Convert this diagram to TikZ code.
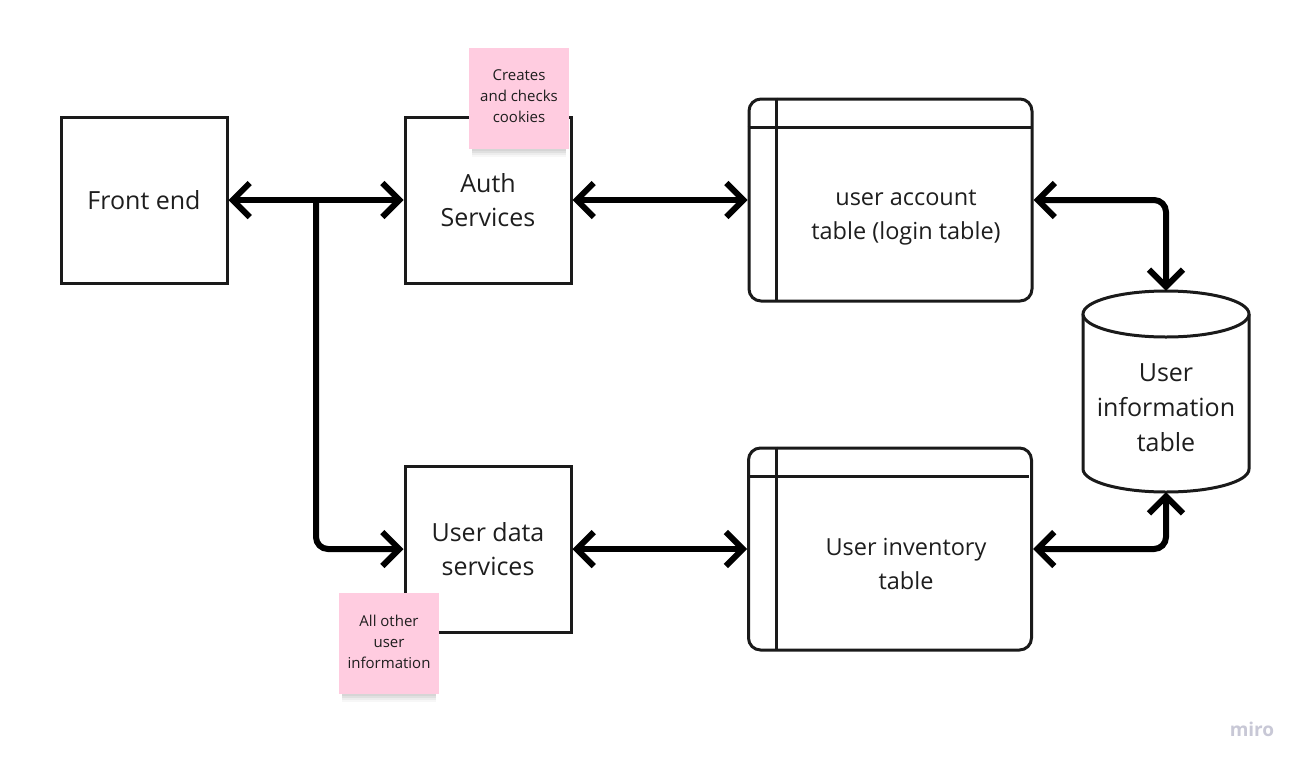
\documentclass[tikz,border=0pt]{standalone}
\usepackage{fontspec}
\setmainfont{Open Sans}
\usetikzlibrary{arrows.meta}
\definecolor{ink}{HTML}{1A1A1A}
\definecolor{txt}{HTML}{1E1E1E}
\definecolor{sticky}{HTML}{FFCCE0}
\definecolor{logo}{HTML}{C8C8D6}
\begin{document}
\begin{tikzpicture}[x=1pt,y=-1pt,
  box/.style={draw=ink,line width=3pt,fill=white,minimum width=166pt,minimum height=166pt,inner sep=0pt,align=center,text=txt,font=\fontsize{25}{34}\selectfont},
  tbl/.style={draw=ink,line width=3pt,fill=white,rounded corners=12pt,minimum width=283pt,minimum height=202pt,inner sep=0pt,align=center,text=txt},
  tbltext/.style={text=txt,align=center,font=\fontsize{23.5}{34}\selectfont},
  note/.style={fill=sticky,minimum width=100pt,minimum height=101pt,inner sep=0pt},
  notetext/.style={align=center,text=txt,font=\fontsize{15}{21}\selectfont},
  tip/.tip={Straight Barb[length=17pt,width=34pt]},
  conn/.style={draw=black,line width=6pt,tip-tip,rounded corners=12pt}]
\useasboundingbox (0,0) rectangle (1304,766);
\fill[white] (0,0) rectangle (1304,766);

% boxes
\node[box] (fe) at (144,200) {Front end};
\node[box] (auth) at (488,200) {Auth\\Services};
\node[box] (uds) at (488,549) {User data\\services};

% tables
\node[tbl] (uat) at (890.5,200) {};
\draw[ink,line width=3pt] (uat.north west) ++(29,0) -- ++(0,202);
\draw[ink,line width=3pt] (uat.north west) ++(0,30) -- ++(283,0);
\node[tbltext] (uatl) at (906,218) {user account\\table (login table)};

\node[tbl] (uit) at (890,549) {};
\draw[ink,line width=3pt] (uit.north west) ++(29,0) -- ++(0,202);
\draw[ink,line width=3pt] (uit.north west) ++(0,30) -- ++(282,0);
\node[tbltext] (uitl) at (906,564) {User inventory\\table};

% database cylinder
\node[minimum width=166pt,minimum height=201pt,inner sep=0pt] (db) at (1166,391.5) {};
\draw[ink,line width=3pt,fill=white] (1083,314) -- (1083,469) arc[start angle=180,end angle=360,x radius=83pt,y radius=23pt] -- (1249,314);
\draw[ink,line width=3pt,fill=white] (1166,314) ellipse[x radius=83pt,y radius=23pt];
\node[text=txt,align=center,font=\fontsize{25}{35}\selectfont] (dbl) at (1166,408) {User\\information\\table};

% connectors
\coordinate (split) at (316,200);
\draw[conn] (fe.east) -- (auth.west);
\draw[conn,-tip] (split) |- (uds.west);
\draw[conn] (auth.east) -- (uat.west);
\draw[conn] (uds.east) -- (uit.west);
\draw[conn] (uat.east) -| (db.north);
\draw[conn] (uit.east) -| (db.south);

% sticky notes
\foreach \o/\a in {2/0.05,4/0.05,6/0.04,8/0.03}{
  \fill[black,opacity=\a] (472,60+\o) rectangle (566,149+\o);
  \fill[black,opacity=\a] (342,605+\o) rectangle (436,694+\o);
}
\node[note] (n1) at (519,98.5) {};
\node[notetext] (n1t) at (519,96.5) {Creates\\and checks\\cookies};
\node[note] (n2) at (389,643.5) {};
\node[notetext] (n2t) at (389,641.5) {All other\\user\\information};

% logo
\node[text=logo,font=\fontsize{19}{19}\selectfont\bfseries] (miro) at (1252,729) {miro};
\end{tikzpicture}
\end{document}
